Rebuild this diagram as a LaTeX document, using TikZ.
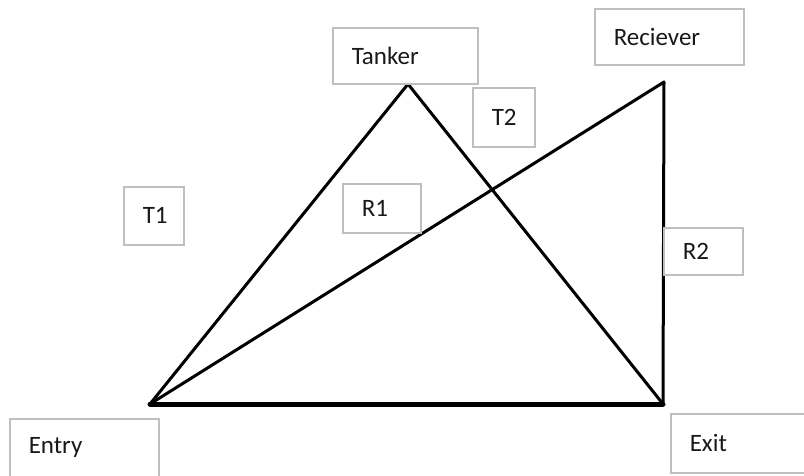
\documentclass[tikz,border=0pt]{standalone}
\usepackage{fontspec}
\setmainfont{Carlito}
\begin{document}
\begin{tikzpicture}[x=1pt,y=-1pt,
  lbl/.style={draw=black!25, line width=1.5pt, fill=white, anchor=north west,
    inner xsep=19pt, inner ysep=0pt, align=left, text=black!90,
    font=\fontsize{25}{30}\selectfont},
  edge/.style={line width=3pt, line cap=round, line join=round},
  base/.style={line width=5pt, line cap=round}]
\useasboundingbox (0,0) rectangle (804,475);
\fill[white] (0,0) rectangle (804,475);
% vertices
\coordinate (entryV) at (150,404);
\coordinate (exitV) at (663,404);
\coordinate (tankV) at (408,84);
\coordinate (recV) at (664,82);
% connectors
\draw[edge] (entryV) -- (tankV) -- (exitV);
\draw[edge] (entryV) -- (recV) -- (exitV);
\draw[base] (entryV) -- (exitV);
% boxes
\node[lbl, minimum width=145pt, minimum height=56pt, text width=107pt] (tanker) at (332,27) {Tanker};
\node[lbl, minimum width=149pt, minimum height=56pt, text width=111pt] (rec) at (594,8) {Reciever};
\node[lbl, minimum width=60pt, minimum height=58pt, text width=22pt] (t1) at (123,186) {T1};
\node[lbl, minimum width=78pt, minimum height=49pt, text width=40pt] (r1) at (342,183) {R1};
\node[lbl, minimum width=62pt, minimum height=59pt, text width=24pt] (t2) at (472,87) {T2};
\node[lbl, minimum width=79pt, minimum height=47pt, text width=41pt] (r2) at (663,227) {R2};
\node[lbl, minimum width=149pt, minimum height=58pt, text width=111pt] (entry) at (9,418) {Entry};
\node[lbl, minimum width=160pt, minimum height=59pt, text width=122pt] (exit) at (670,413) {Exit};
\end{tikzpicture}
\end{document}
